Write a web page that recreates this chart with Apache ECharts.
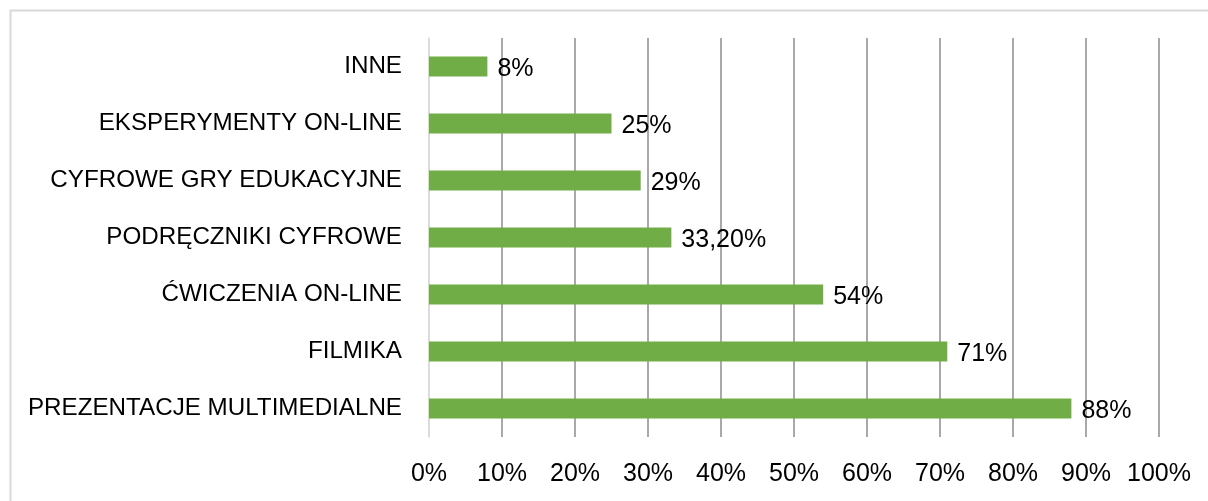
<!DOCTYPE html>
<html><head><meta charset="utf-8">
<script src="https://cdn.jsdelivr.net/npm/echarts@6/dist/echarts.min.js"></script>
<style>html,body{margin:0;padding:0;background:#fff;}#c{width:1208px;height:501px;}</style>
</head><body><div id="c"></div>
<script>
const categories = ['PREZENTACJE MULTIMEDIALNE','FILMIKA','ĆWICZENIA ON-LINE','PODRĘCZNIKI CYFROWE','CYFROWE GRY EDUKACYJNE','EKSPERYMENTY ON-LINE','INNE'];
const values = [88, 71, 54, 33.2, 29, 25, 8];
const valueLabels = ['88%','71%','54%','33,20%','29%','25%','8%'];
const tickMin = 0, tickMax = 100, tickStep = 10;

const FONT = 'Liberation Sans';
const chart = echarts.init(document.getElementById('c'), null, {renderer:'canvas'});
const gridColors = [];
for (let v = tickMin; v <= tickMax; v += tickStep) gridColors.push(v === 0 ? '#d9d9d9' : '#8c8c8c');
chart.setOption({
  animation: false,
  backgroundColor: '#fff',
  graphic: [{type:'rect', left: 8, top: 8, shape:{width:1400, height:700}, style:{fill:'none', stroke:'#d9d9d9', lineWidth:2}, silent:true, z:-1}],
  grid: {left: 429, right: 49, top: 38, bottom: 64},
  xAxis: {
    type: 'value', min: tickMin, max: tickMax, interval: tickStep,
    axisLine: {show: false}, axisTick: {show: false},
    splitLine: {show: true, lineStyle: {color: gridColors, width: 1.5}},
    axisLabel: {formatter: '{value}%', color: '#000', fontFamily: FONT, fontSize: 25, margin: 25}
  },
  yAxis: {
    type: 'category', data: categories,
    axisLine: {show: true, lineStyle: {color: '#d9d9d9', width: 1.5}},
    axisTick: {show: false},
    axisLabel: {color: '#000', fontFamily: FONT, fontSize: 24.2, margin: 27}
  },
  series: [{
    type: 'bar', data: values, barWidth: 20,
    itemStyle: {color: '#70AD47'},
    label: {show: true, position: 'right', distance: 10, offset: [0, 3],
      formatter: p => valueLabels[p.dataIndex], color: '#000', fontFamily: FONT, fontSize: 25}
  }]
});
</script></body></html>
